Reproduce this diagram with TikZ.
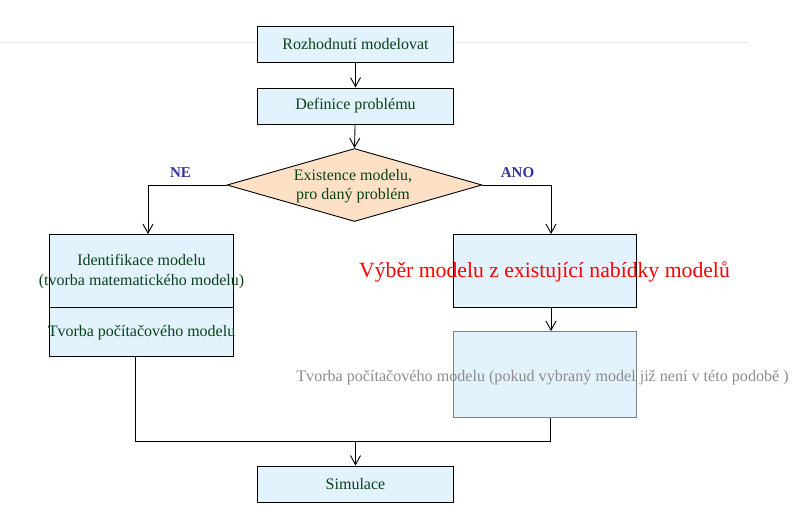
\documentclass[tikz,border=0pt]{standalone}
\usepackage{fontspec}
\setmainfont{Liberation Serif}
\usetikzlibrary{shapes.geometric,arrows.meta,calc}
\definecolor{boxfill}{RGB}{226,243,253}
\definecolor{diafill}{RGB}{253,224,197}
\definecolor{txtgreen}{RGB}{8,66,26}
\definecolor{lblblue}{RGB}{51,51,160}
\definecolor{faint}{RGB}{236,236,224}
\definecolor{graytxt}{RGB}{140,140,140}
\definecolor{grayline}{RGB}{128,128,128}
\begin{document}
\begin{tikzpicture}[x=1pt,y=-1pt,
  procbox/.style={draw=black,line width=1pt,fill=boxfill,rectangle,inner sep=0pt,
    font=\fontsize{16}{19}\selectfont,text=txtgreen,align=center},
  conn/.style={draw=black,line width=0.9pt},
  arr/.style={conn,-{Straight Barb[length=9pt,width=10pt,line width=0.9pt]}},
  lbl/.style={font=\fontsize{15}{18}\selectfont\bfseries,text=lblblue,inner sep=0pt}]
\useasboundingbox (0,0) rectangle (795,515);
% faint rule
\coordinate (fl) at (0,42);
\coordinate (fr) at (748,42);
\draw[faint,line width=1pt] (fl) -- (fr);
% boxes
\node[procbox,minimum width=196pt,minimum height=36pt] (b1) at (355.5,44.5) {Rozhodnutí modelovat};
\node[procbox,minimum width=196pt,minimum height=36pt] (b2) at (355.5,106) {Definice problému};
\node[draw=black,line width=0.9pt,fill=diafill,diamond,minimum width=255pt,minimum height=73pt,inner sep=0pt] (d) at (354.5,185) {};
\node[font=\fontsize{16}{19}\selectfont,text=txtgreen,align=center,inner sep=0pt] (dt) at (353,186) {Existence modelu,\\pro daný problém};
\node[procbox,minimum width=184pt,minimum height=73pt] (L1) at (141.5,271) {};
\node[font=\fontsize{16}{20}\selectfont,text=txtgreen,align=center,inner sep=0pt] (L1t) at (141.5,272) {Identifikace modelu\\(tvorba matematického modelu)};
\node[procbox,minimum width=184pt,minimum height=48.5pt] (L2) at (141.5,331.75) {};
\node[font=\fontsize{16}{19}\selectfont,text=txtgreen,inner sep=0pt] (L2t) at (141.5,333) {Tvorba počítačového modelu};
\node[procbox,minimum width=183pt,minimum height=73pt] (R1) at (545,271) {};
\node[font=\fontsize{21.7}{24}\selectfont,text=red,inner sep=0pt] (R1t) at (544.5,272) {Výběr modelu z existující nabídky modelů};
\node[draw=grayline,line width=1pt,fill=boxfill,rectangle,inner sep=0pt,minimum width=183pt,minimum height=86pt] (R2) at (545,374.5) {};
\node[font=\fontsize{16.1}{19}\selectfont,text=graytxt,inner sep=0pt] (R2t) at (542.5,378) {Tvorba počítačového modelu (pokud vybraný model již není v této podobě )};
\node[procbox,minimum width=196pt,minimum height=36pt] (sim) at (355.5,484) {Simulace};
% labels
\node[lbl] (ne) at (180.5,173) {NE};
\node[lbl] (ano) at (517.5,173) {ANO};
% connectors
\draw[arr] (b1) -- (b2);
\draw[arr] (b2) -- (d.north);
\coordinate (la) at (148,185);
\coordinate (ra) at (551,185);
\draw[arr] (d.west) -- (la) -- (la |- L1.north);
\draw[arr] (d.east) -- (ra) -- (ra |- R1.north);
\draw[arr] (ra |- R1.south) -- (ra |- R2.north);
\coordinate (lj) at (135.5,441);
\coordinate (rj) at (550.5,441);
\coordinate (mj) at (355.5,441);
\draw[conn] (lj |- L2.south) -- (lj) -- (rj) -- (rj |- R2.south);
\draw[arr] (mj) -- (sim.north);
\end{tikzpicture}
\end{document}
